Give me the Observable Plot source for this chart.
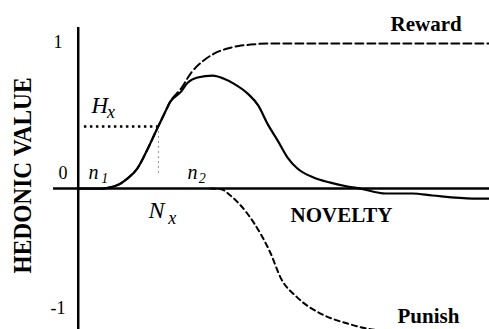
<!DOCTYPE html>
<html><head><meta charset="utf-8">
<script src="https://cdn.jsdelivr.net/npm/d3@7"></script>
<script src="https://cdn.jsdelivr.net/npm/@observablehq/plot@0.6"></script>
<style>body{margin:0;background:#fff}</style>
</head><body><div id="chart"></div>
<script>
// Hedonic value (Wundt curve) data
const sumX = [0, 0.6, 0.8, 1.0, 1.2, 1.44, 1.7, 1.93, 2.1, 2.24, 2.49, 2.66, 2.9, 3.27, 3.53, 3.78, 4.12, 4.38, 4.6, 4.85, 5.09, 5.33, 5.72, 6.13, 6.55, 6.86, 7.47, 8.13, 8.61, 9.59, 10];
const sumV = [0, 0, 0.01, 0.03, 0.07, 0.14, 0.28, 0.42, 0.52, 0.60, 0.665, 0.73, 0.766, 0.779, 0.759, 0.724, 0.655, 0.572, 0.448, 0.331, 0.214, 0.138, 0.076, 0.041, 0.014, 0, -0.034, -0.034, -0.048, -0.069, -0.069];
const rewardX = [0.6, 0.8, 1.0, 1.2, 1.44, 1.7, 1.93, 2.1, 2.24, 2.5, 2.75, 3.05, 3.3, 3.63, 3.9, 4.19, 4.6, 10];
const rewardV = [0, 0.01, 0.03, 0.07, 0.14, 0.28, 0.42, 0.52, 0.60, 0.69, 0.80, 0.883, 0.93, 0.966, 0.983, 0.993, 1, 1];
const punishX = [3.22, 3.46, 3.70, 4.11, 4.43, 4.68, 4.92, 5.33, 5.89, 6.55, 7.03, 7.5, 8, 10];
const punishV = [0, -0.003, -0.048, -0.172, -0.310, -0.448, -0.614, -0.752, -0.862, -0.931, -0.966, -0.985, -0.995, -1];
const tickLabels = ["1", "0", "-1"];
const hx = {x: 1.95, v: 0.428};

const sum = sumX.map((x, i) => ({x, v: sumV[i]}));
const reward = rewardX.map((x, i) => ({x, v: rewardV[i]}));
const punish = punishX.map((x, i) => ({x, v: punishV[i]}));

const serif = "'Liberation Serif', serif";
const txt = (label, x, y, opts) => Plot.text([label], {x: [x], y: [y], text: d => d, fontFamily: serif, lineAnchor: "bottom", fill: "black", ...opts});

const chart = Plot.plot({
  width: 489, height: 329,
  marginLeft: 0, marginRight: 0, marginTop: 0, marginBottom: 0,
  x: {domain: [-1.89, 10], axis: null},
  y: {domain: [-0.972, 1.297], axis: null},
  style: {background: "white"},
  marks: [
    // axes
    Plot.ruleY([0], {x1: -0.6, x2: 10, stroke: "black", strokeWidth: 2.5}),
    Plot.ruleX([0], {y1: -0.972, y2: 1.11, stroke: "black", strokeWidth: 2.5}),
    // H_x / N_x guides
    Plot.ruleY([hx.v], {x1: 0.15, x2: hx.x, stroke: "black", strokeWidth: 2.5, strokeDasharray: "2.5,3.5"}),
    Plot.ruleX([hx.x], {y1: hx.v, y2: 0.103, stroke: "#999", strokeWidth: 1, strokeDasharray: "2,3"}),
    // curves
    Plot.line(reward, {x: "x", y: "v", stroke: "black", strokeWidth: 2, strokeDasharray: "8,4", curve: "monotone-x"}),
    Plot.line(punish, {x: "x", y: "v", stroke: "black", strokeWidth: 2, strokeDasharray: "5,4", curve: "monotone-x", clip: true}),
    Plot.line(sum, {x: "x", y: "v", stroke: "black", strokeWidth: 2.2, curve: "monotone-x"}),
    // tick labels
    Plot.text(tickLabels, {x: [-0.49, -0.37, -0.49], y: [0.972, 0.069, -0.862], text: d => d, fontFamily: serif, fontSize: 18, lineAnchor: "bottom", fill: "black"}),
    // annotations
    txt("H", 0.323, 0.524, {fontSize: 23, fontStyle: "italic", textAnchor: "start"}),
    txt("x", 0.70, 0.490, {fontSize: 18, fontStyle: "italic", textAnchor: "start"}),
    txt("n", 0.25, 0.069, {fontSize: 20, fontStyle: "italic", textAnchor: "start"}),
    txt("1", 0.56, 0.041, {fontSize: 14, fontStyle: "italic", textAnchor: "start"}),
    txt("n", 2.657, 0.069, {fontSize: 20, fontStyle: "italic", textAnchor: "start"}),
    txt("2", 2.93, 0.041, {fontSize: 14, fontStyle: "italic", textAnchor: "start"}),
    txt("N", 1.709, -0.2, {fontSize: 24, fontStyle: "italic", textAnchor: "start"}),
    txt("x", 2.19, -0.241, {fontSize: 18, fontStyle: "italic", textAnchor: "start"}),
    txt("Reward", 7.593, 1.09, {fontSize: 21, fontWeight: "bold", textAnchor: "start"}),
    txt("NOVELTY", 5.161, -0.234, {fontSize: 21, fontWeight: "bold", textAnchor: "start"}),
    txt("Punish", 7.763, -0.924, {fontSize: 21, fontWeight: "bold", textAnchor: "start"}),
    Plot.text(["HEDONIC VALUE"], {x: [-1.354], y: [0.09], text: d => d, rotate: -90, fontFamily: serif, fontSize: 26, fontWeight: "bold", lineAnchor: "middle", textAnchor: "middle", fill: "black"})
  ]
});
chart.querySelectorAll("text").forEach(t => {
  if (t.textContent === "HEDONIC VALUE") {
    t.setAttribute("textLength", "196");
    t.setAttribute("lengthAdjust", "spacingAndGlyphs");
  }
});
document.getElementById("chart").appendChild(chart);
</script>
</body></html>
